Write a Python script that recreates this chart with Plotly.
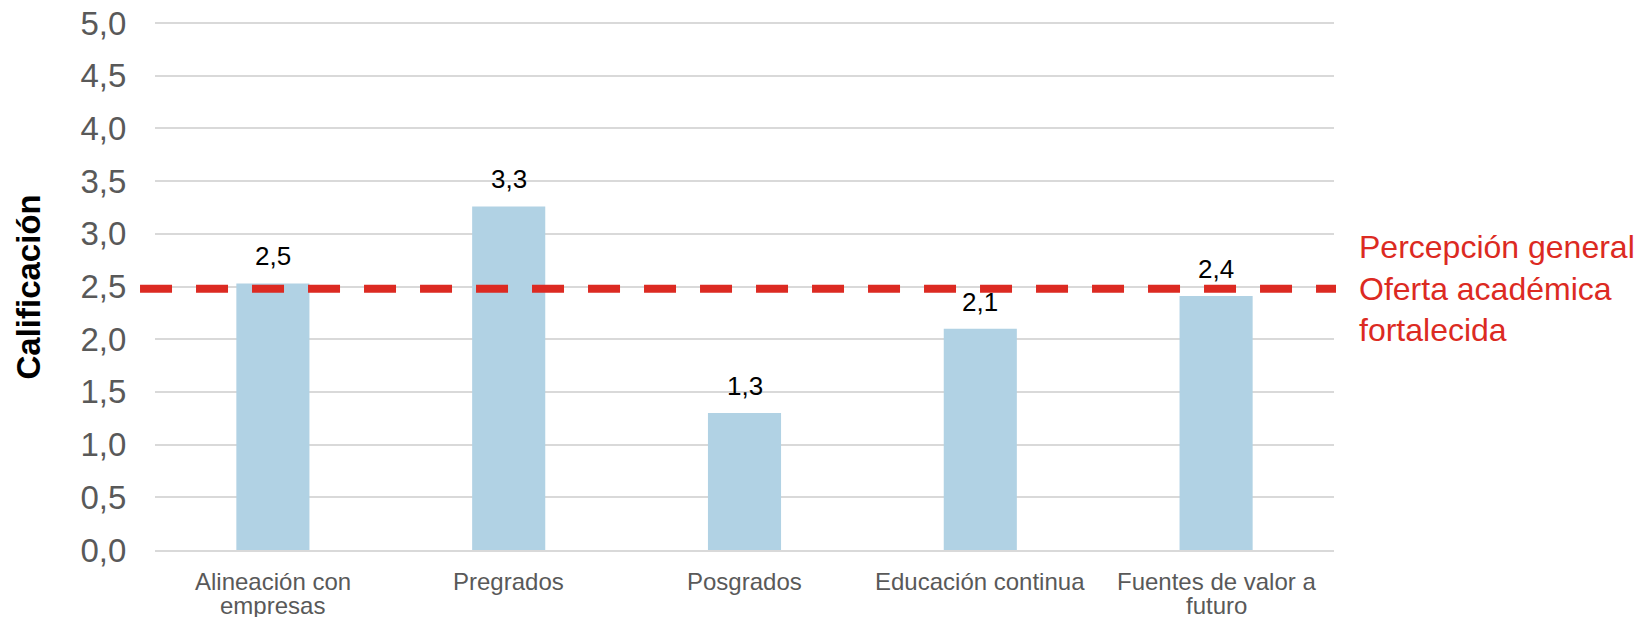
import plotly.graph_objects as go

categories = ["Alineación con empresas", "Pregrados", "Posgrados", "Educación continua", "Fuentes de valor a futuro"]
category_lines = [["Alineación con", "empresas"], ["Pregrados"], ["Posgrados"], ["Educación continua"], ["Fuentes de valor a", "futuro"]]
values = [2.53, 3.26, 1.30, 2.10, 2.41]
reference_value = 2.48
reference_label = ["Percepción general", "Oferta académica", "fortalecida"]
y_ticks = [0, 0.5, 1.0, 1.5, 2.0, 2.5, 3.0, 3.5, 4.0, 4.5, 5.0]
y_ticktext = [f"{t:.1f}".replace(".", ",") for t in y_ticks]
y_title = "Calificación"

FONT = "Arial, Liberation Sans, sans-serif"
BAR_COLOR = "#b1d2e4"
RED = "#dc2a22"
GRID = "#d9d9d9"
TICK_COLOR = "#595959"

fig = go.Figure()
fig.add_trace(go.Bar(x=categories, y=values, marker=dict(color=BAR_COLOR, line=dict(width=0)),
                     hoverinfo="skip", showlegend=False))

# reference dashed line
fig.add_shape(type="line", xref="paper", yref="y", x0=-0.0127, x1=1.0017,
              y0=reference_value, y1=reference_value,
              line=dict(color=RED, width=8, dash="32px,24px"))

# data labels
for c, v in zip(categories, values):
    fig.add_annotation(x=c, y=v, xref="x", yref="y", text=f"{v:.1f}".replace(".", ","),
                       showarrow=False, yanchor="middle", yshift=27,
                       font=dict(family=FONT, size=26, color="#000000"))

# category labels
for c, lines in zip(categories, category_lines):
    for i, ln in enumerate(lines):
        fig.add_annotation(x=c, y=0, xref="x", yref="y", text=ln, showarrow=False,
                           yanchor="middle", yshift=-31 - 24 * i,
                           font=dict(family=FONT, size=24, color=TICK_COLOR))

# reference label
fig.add_annotation(x=1.0195, y=reference_value, xref="paper", yref="y",
                   text="<br>".join(reference_label), showarrow=False,
                   xanchor="left", yanchor="middle", align="left", yshift=0,
                   font=dict(family=FONT, size=32, color=RED))

# y-axis title
fig.add_annotation(x=-0.1069, y=2.5, xref="paper", yref="y", text=f"<b>{y_title}</b>",
                   showarrow=False, textangle=-90, xanchor="center", yanchor="middle",
                   font=dict(family=FONT, size=33, color="#000000"))

fig.update_layout(
    width=1637, height=617,
    margin=dict(l=155, r=303, t=21, b=67),
    paper_bgcolor="white", plot_bgcolor="white",
    bargap=0.69,
    font=dict(family=FONT),
    xaxis=dict(showticklabels=False, showgrid=False, showline=True, linecolor=GRID, linewidth=2,
               ticks="", zeroline=False, automargin=False),
    yaxis=dict(range=[0, 5.02], tickvals=y_ticks, ticktext=y_ticktext,
               showgrid=True, gridcolor=GRID, gridwidth=2, zeroline=False,
               ticks="outside", ticklen=21, tickcolor="rgba(0,0,0,0)", automargin=False,
               tickfont=dict(family=FONT, size=33, color=TICK_COLOR)),
)

fig.write_html("out.html")
